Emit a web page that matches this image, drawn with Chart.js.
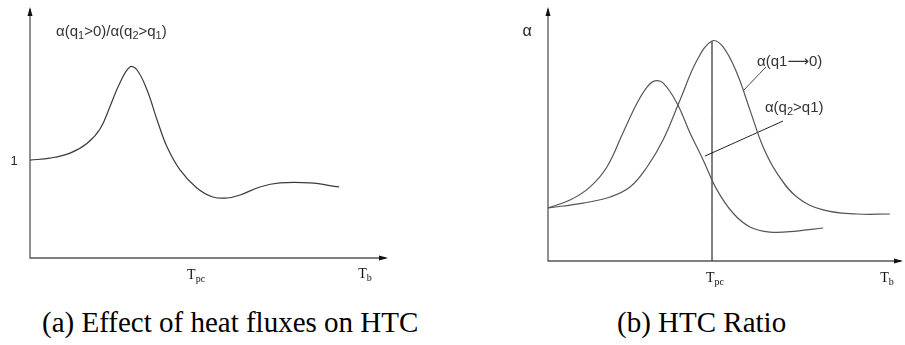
<!DOCTYPE html>
<html>
<head>
<meta charset="utf-8">
<script src="https://cdn.jsdelivr.net/npm/chart.js@4.4.1/dist/chart.umd.min.js"></script>
<style>
    body { margin: 0; background: #fff; width: 905px; height: 345px; position: relative; overflow: hidden; }
    #paneA { position: absolute; left: 0; top: 0; }
    #paneB { position: absolute; left: 450px; top: 0; }
    .caption { position: absolute; font-family: "Liberation Serif", "Times New Roman", serif; font-size: 29px; line-height: 29px; color: #000; white-space: nowrap; }
</style>
</head>
<body>
<canvas id="paneA" width="450" height="300"></canvas>
<canvas id="paneB" width="455" height="300"></canvas>
<div class="caption" id="capA" style="left: 42px; top: 308px;">(a) Effect of heat fluxes on HTC</div>
<div class="caption" id="capB" style="left: 617px; top: 308px;">(b) HTC Ratio</div>

<script>
// (a) ratio curve, arbitrary units (x: bulk temperature, y: ratio)
const ratioX = [0, 5.6, 11.2, 15.9, 19.6, 22.3, 25.1, 27.9, 29.9, 32.7, 35.5, 38.3, 41.9, 46.6, 51.1, 55.0, 58.7, 64.2, 69.8, 78.2, 86.3]
const ratioY = [39.0, 39.8, 41.8, 45.6, 51.5, 60.2, 69.7, 76.1, 74.9, 66.9, 55.0, 44.2, 35.1, 27.9, 24.3, 23.9, 25.1, 28.3, 29.9, 29.9, 28.3]
const ratioTicks = { one: 39.0, tpc: 46.4, tb: 93.6 }

// (b) htc curves
const lowFluxX = [0, 9.9, 17.5, 23.1, 27.9, 32.4, 37.2, 42.0, 46.2, 49.3, 53.2, 56.9, 60.6, 64.5, 70.1, 77.5, 87.0, 96.3]
const lowFluxY = [20.9, 22.8, 25.2, 29.1, 37.0, 47.6, 63.4, 79.1, 86.6, 84.3, 74.0, 59.4, 44.9, 34.6, 25.2, 20.1, 18.5, 18.5]
const highFluxX = [0, 6.2, 11.8, 16.6, 21.1, 25.1, 27.9, 30.1, 32.4, 36.3, 40.0, 43.7, 47.6, 52.1, 56.9, 62.5, 70.1, 77.5]
const highFluxY = [20.9, 24.0, 29.1, 37.0, 50.4, 62.2, 68.5, 70.9, 70.1, 62.2, 50.4, 39.8, 28.0, 18.9, 13.4, 11.4, 11.8, 13.0]
const tpcX = 46.2
const tbX = 95.5

const toPoints = (xs, ys) => xs.map((x, i) => ({ x: x, y: ys[i] }))

const SANS = '"Liberation Sans", Arial, "DejaVu Sans", sans-serif'
const SERIF = '"Liberation Serif", "Times New Roman", serif'

// draw text made of [text, isSub] parts
function drawParts(ctx, parts, x, y, size, family, color, align) {
    const subSize = Math.round(size * 0.7)
    let total = 0
    parts.forEach(p => {
        ctx.font = `${p[1] ? subSize : size}px ${family}`
        total += ctx.measureText(p[0]).width
    })
    let cx = align === 'center' ? x - total / 2 : x
    ctx.fillStyle = color
    ctx.textBaseline = 'alphabetic'
    ctx.textAlign = 'left'
    parts.forEach(p => {
        ctx.font = `${p[1] ? subSize : size}px ${family}`
        ctx.fillText(p[0], cx, p[1] ? y + size * 0.22 : y)
        cx += ctx.measureText(p[0]).width
    })
}

function drawAxes(chart) {
    const ctx = chart.ctx
    const a = chart.chartArea
    ctx.save()
    ctx.strokeStyle = '#555'
    ctx.lineWidth = 1.3
    ctx.beginPath()
    ctx.moveTo(a.left, a.top + 2)
    ctx.lineTo(a.left, a.bottom)
    ctx.lineTo(a.right - 2, a.bottom)
    ctx.stroke()
    ctx.fillStyle = '#111'
    ctx.beginPath()
    ctx.moveTo(a.left, a.top)
    ctx.lineTo(a.left - 2.5, a.top + 9)
    ctx.lineTo(a.left + 2.5, a.top + 9)
    ctx.closePath()
    ctx.fill()
    ctx.beginPath()
    ctx.moveTo(a.right, a.bottom)
    ctx.lineTo(a.right - 9, a.bottom - 2.5)
    ctx.lineTo(a.right - 9, a.bottom + 2.5)
    ctx.closePath()
    ctx.fill()
    ctx.restore()
}

const ratioLabels = {
    id: 'ratioLabels',
    afterDraw(chart) {
        const ctx = chart.ctx
        const sx = chart.scales.x, sy = chart.scales.y
        drawAxes(chart)
        ctx.save()
        drawParts(ctx, [['α(q'], ['1', true], ['>0)/α(q'], ['2', true], ['>q'], ['1', true], [')']],
            56, sy.getPixelForValue(90.4) + 5, 15, SANS, '#333', 'left')
        drawParts(ctx, [['1']], sx.getPixelForValue(0) - 16, sy.getPixelForValue(ratioTicks.one) + 5, 13, SANS, '#223', 'center')
        drawParts(ctx, [['T'], ['pc', true]], sx.getPixelForValue(ratioTicks.tpc), 279, 14, SERIF, '#111', 'center')
        drawParts(ctx, [['T'], ['b', true]], sx.getPixelForValue(ratioTicks.tb), 278, 14, SERIF, '#111', 'center')
        ctx.restore()
    }
}

const htcLabels = {
    id: 'htcLabels',
    afterDraw(chart) {
        const ctx = chart.ctx
        const sx = chart.scales.x, sy = chart.scales.y
        drawAxes(chart)
        ctx.save()
        drawParts(ctx, [['α']], sx.getPixelForValue(0) - 21, sy.getPixelForValue(90.6) + 5, 16, SANS, '#223', 'center')
        drawParts(ctx, [['α(q1⟶0)']], sx.getPixelForValue(58.9), sy.getPixelForValue(78.7) + 5, 15, SANS, '#333', 'left')
        drawParts(ctx, [['α(q'], ['2', true], ['>q1)']], sx.getPixelForValue(61.1), sy.getPixelForValue(60.6) + 5, 15, SANS, '#333', 'left')
        drawParts(ctx, [['T'], ['pc', true]], sx.getPixelForValue(tpcX) + 3, 282, 14, SERIF, '#111', 'center')
        drawParts(ctx, [['T'], ['b', true]], sx.getPixelForValue(tbX), 282, 14, SERIF, '#111', 'center')
        ctx.restore()
    }
}

const lineStyle = (color, width) => ({
    borderColor: color,
    borderWidth: width,
    pointRadius: 0,
    fill: false,
    tension: 0.4
})

const baseOptions = (pad) => ({
    responsive: false,
    animation: false,
    layout: { padding: pad },
    plugins: { legend: { display: false }, tooltip: { enabled: false } },
    scales: {
        x: { type: 'linear', min: 0, max: 100, display: false },
        y: { type: 'linear', min: 0, max: 100, display: false }
    },
    clip: false
})

new Chart(document.getElementById('paneA').getContext('2d'), {
    type: 'line',
    data: {
        datasets: [
            Object.assign({ data: toPoints(ratioX, ratioY) }, lineStyle('#3a3a3a', 1.2))
        ]
    },
    options: baseOptions({ left: 30, right: 62, top: 7, bottom: 42 }),
    plugins: [ratioLabels]
})

new Chart(document.getElementById('paneB').getContext('2d'), {
    type: 'line',
    data: {
        datasets: [
            Object.assign({ data: toPoints(lowFluxX, lowFluxY) }, lineStyle('#555', 1.2)),
            Object.assign({ data: toPoints(highFluxX, highFluxY) }, lineStyle('#555', 1.2)),
            Object.assign({ data: [{ x: tpcX, y: 0 }, { x: tpcX, y: 86.6 }] }, lineStyle('#000', 1)),
            Object.assign({ data: [{ x: 61.4, y: 76.4 }, { x: 54.9, y: 66.9 }] }, lineStyle('#444', 1)),
            Object.assign({ data: [{ x: 66.2, y: 55.1 }, { x: 44.2, y: 41.3 }] }, lineStyle('#222', 1))
        ]
    },
    options: baseOptions({ left: 98, right: 2, top: 7, bottom: 39 }),
    plugins: [htcLabels]
})
</script>
</body>
</html>
